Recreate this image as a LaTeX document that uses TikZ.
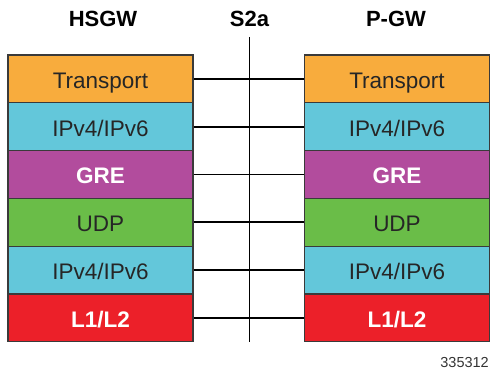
\documentclass[tikz,border=0pt]{standalone}
\usepackage{fontspec}
\setmainfont{Liberation Sans}
\usepackage{tikz}

\definecolor{transportorange}{HTML}{F8AC3D}
\definecolor{ipcyan}{HTML}{63C7DA}
\definecolor{grepurple}{HTML}{B24C9D}
\definecolor{udpgreen}{HTML}{6ABD48}
\definecolor{l1red}{HTML}{EC2029}
\definecolor{edgegray}{HTML}{3A3A3A}

\tikzstyle{layer}=[draw=edgegray, line width=1.2pt, minimum width=185pt, minimum height=47.8pt, inner sep=0pt, text height=19pt, text depth=0pt, font=\fontsize{22.5}{27}\selectfont, text=black!85]
\tikzstyle{boldlayer}=[layer, text=white, font=\fontsize{22.5}{27}\selectfont\bfseries]
\tikzstyle{header}=[anchor=base, inner sep=0pt, font=\fontsize{22}{26}\selectfont\bfseries]
\tikzstyle{peer}=[line width=1.8pt]

\begin{document}
\begin{tikzpicture}[x=1pt, y=1pt]
				\useasboundingbox (0,0) rectangle (490,370);

				\node[header] (hsgw) at (103,343) {HSGW};
				\node[header] (s2a) at (249.5,343) {S2a};
				\node[header] (pgw) at (396,343) {P-GW};

				% HSGW stack
				\node[layer, fill=transportorange] (hT) at (100.5,291.1) {Transport};
				\node[layer, fill=ipcyan] (hIPa) at (100.5,243.3) {IPv4/IPv6};
				\node[boldlayer, fill=grepurple] (hG) at (100.5,195.5) {GRE};
				\node[layer, fill=udpgreen] (hU) at (100.5,147.7) {UDP};
				\node[layer, fill=ipcyan] (hIPb) at (100.5,99.9) {IPv4/IPv6};
				\node[boldlayer, fill=l1red] (hL) at (100.5,52.1) {L1/L2};

				% P-GW stack
				\node[layer, fill=transportorange] (pT) at (397,291.1) {Transport};
				\node[layer, fill=ipcyan] (pIPa) at (397,243.3) {IPv4/IPv6};
				\node[boldlayer, fill=grepurple] (pG) at (397,195.5) {GRE};
				\node[layer, fill=udpgreen] (pU) at (397,147.7) {UDP};
				\node[layer, fill=ipcyan] (pIPb) at (397,99.9) {IPv4/IPv6};
				\node[boldlayer, fill=l1red] (pL) at (397,52.1) {L1/L2};

				\coordinate (s2top) at (249.5,333);
				\coordinate (s2bot) at (249.5,28);
				\draw[peer] (s2top) -- (s2bot);

				\draw[peer] (hT) -- (pT);
				\draw[peer] (hIPa) -- (pIPa);
				\draw[peer] (hG) -- (pG);
				\draw[peer] (hU) -- (pU);
				\draw[peer] (hIPb) -- (pIPb);
				\draw[peer] (hL) -- (pL);

				\node[anchor=base east, inner sep=0pt, text=black!80, font=\fontsize{14.5}{17}\selectfont] (figno) at (489,3) {335312};
			\end{tikzpicture}
\end{document}
